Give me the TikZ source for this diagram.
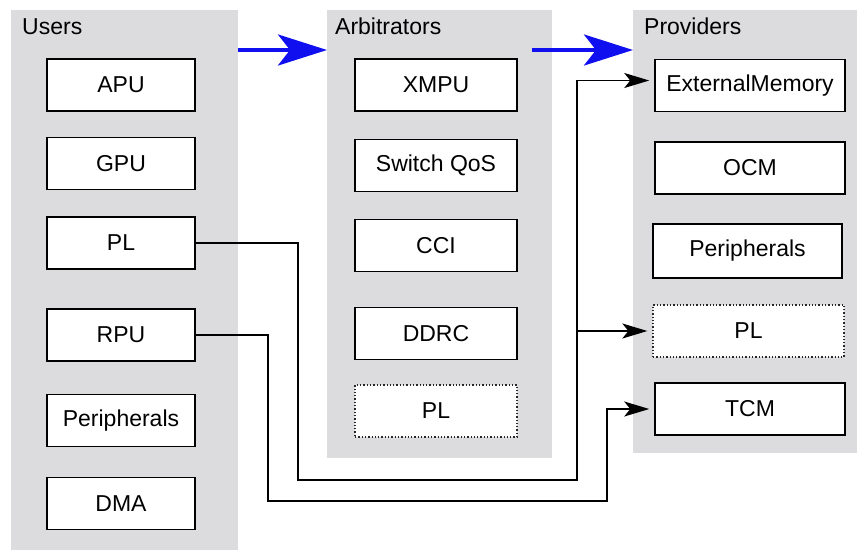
\documentclass[tikz,border=0pt]{standalone}
\usepackage{fontspec}
\setmainfont{Liberation Sans}
\definecolor{grisk}{RGB}{220,220,222}
\definecolor{azulk}{RGB}{15,15,240}
\usetikzlibrary{arrows.meta,calc}

\tikzset{
  panel/.style={fill=grisk,inner sep=0pt,anchor=north west},
  caja/.style={draw,fill=white,line width=1.5pt,inner sep=0pt,minimum height=52pt},
  punteada/.style={caja,draw=black!85,line width=1.3pt,dash pattern=on 1.3pt off 2pt},
  titulo/.style={anchor=base west,inner sep=0pt},
  flecha/.style={-{Stealth[length=25pt,width=15pt,inset=6pt]},line width=1.5pt,shorten >=5pt},
  flechazul/.style={-{Stealth[length=49pt,width=31pt,inset=12pt]},line width=4pt,azulk},
}

\begin{document}
\begin{tikzpicture}[x=1pt,y=-1pt,font=\fontsize{23}{27}\selectfont]
  \useasboundingbox (0,0) rectangle (857,550);
  % paneles
  \node[panel,minimum width=227pt,minimum height=540pt] (usr) at (11,10) {};
  \node[panel,minimum width=225pt,minimum height=448pt] (arb) at (327,10) {};
  \node[panel,minimum width=224pt,minimum height=443pt] (prov) at (633,10) {};
  \node[titulo] (usrT) at (22,34) {Users};
  \node[titulo] (arbT) at (335,34) {Arbitrators};
  \node[titulo] (provT) at (644,34) {Providers};

  % usuarios
  \node[caja,minimum width=148pt] (apu) at (121,85) {APU};
  \node[caja,minimum width=148pt] (gpu) at (121,163.5) {GPU};
  \node[caja,minimum width=148pt] (upl) at (121,243) {PL};
  \node[caja,minimum width=148pt] (rpu) at (121,335) {RPU};
  \node[caja,minimum width=148pt] (uper) at (121,420.5) {Peripherals};
  \node[caja,minimum width=148pt] (dma) at (121,503.5) {DMA};

  % arbitros
  \node[caja,minimum width=162pt] (xmpu) at (436,85) {XMPU};
  \node[caja,minimum width=162pt] (qos) at (436,165.5) {Switch QoS};
  \node[caja,minimum width=162pt] (cci) at (436,245.5) {CCI};
  \node[caja,minimum width=162pt] (ddrc) at (436,333.5) {DDRC};
  \node[punteada,minimum width=162pt] (apl) at (436,411) {PL};

  % proveedores
  \node[caja,minimum width=190pt] (extm) at (750,85.5) {ExternalMemory};
  \node[caja,minimum width=190pt] (ocm) at (750,168) {OCM};
  \node[caja,minimum width=189pt,minimum height=54pt] (pper) at (747.5,251) {Peripherals};
  \node[punteada,minimum width=191pt] (ppl) at (748.5,331) {PL};
  \node[caja,minimum width=190pt] (tcm) at (750,409) {TCM};

  % flujo
  \coordinate (alto) at (0,50);
  \draw[flechazul] (usr.east |- alto) -- (arb.west |- alto);
  \draw[flechazul] ($(arb.east |- alto)+(-20,0)$) -- (prov.west |- alto);

  \coordinate (k1) at (298,480);
  \coordinate (k2) at (577,480);
  \draw[flecha] (upl.east) -| (k1) -- (k2) |- ($(extm.west)+(0,-5)$);
  \draw[flecha] (k2 |- ppl.west) -- (ppl.west);
  \coordinate (k3) at (268,501);
  \coordinate (k4) at (607,501);
  \draw[flecha] (rpu.east) -| (k3) -- (k4) |- (tcm.west);
\end{tikzpicture}
\end{document}
